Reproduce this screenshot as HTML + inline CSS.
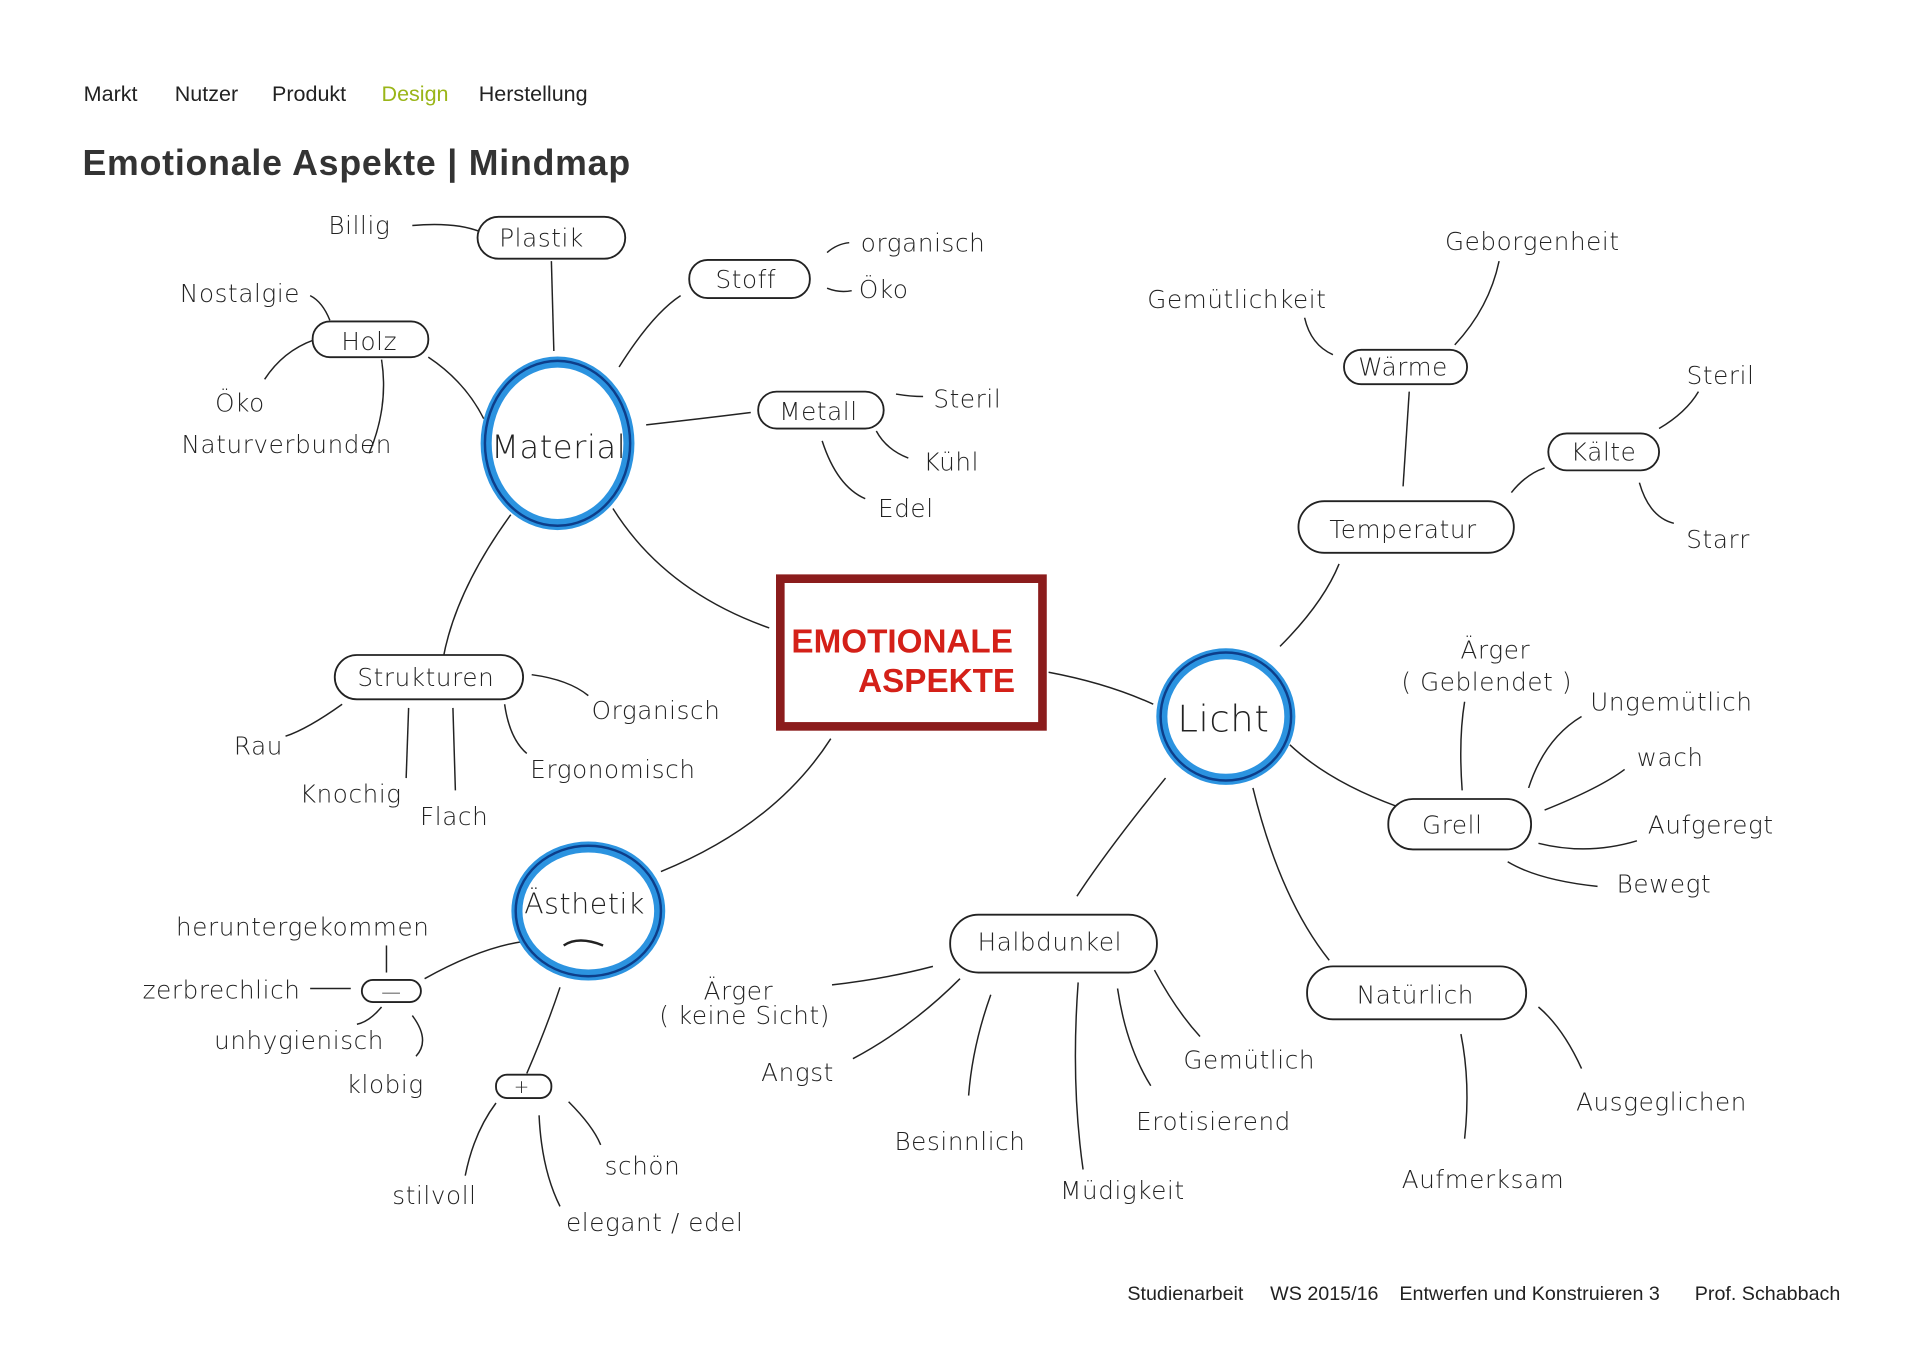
<!DOCTYPE html>
<html><head><meta charset="utf-8"><style>
html,body{margin:0;padding:0;background:#fff;width:1920px;height:1358px;overflow:hidden}
svg{display:block}
.h{font-family:"DejaVu Sans","Liberation Sans",sans-serif;font-weight:300;fill:#222;font-size:20px;letter-spacing:0.5px}
.n{font-family:"Liberation Sans",sans-serif;font-size:17.5px;fill:#222}
.l{fill:none;stroke:#222;stroke-width:1.2}
.o{fill:#fff;stroke:#222;stroke-width:1.5}
</style></head><body>
<svg width="1920" height="1358" viewBox="0 0 1560 1103" xmlns="http://www.w3.org/2000/svg">
<text class="n" x="68" y="82">Markt</text>
<text class="n" x="142" y="82">Nutzer</text>
<text class="n" x="221" y="82">Produkt</text>
<text class="n" x="310" y="82" style="fill:#9ab518">Design</text>
<text class="n" x="389" y="82">Herstellung</text>
<text x="67" y="142" style="font-family:'Liberation Sans',sans-serif;font-weight:bold;font-size:29px;fill:#333" textLength="445">Emotionale Aspekte | Mindmap</text>
<g class="n" style="font-size:16px">
<text x="916" y="1056">Studienarbeit</text>
<text x="1032" y="1056">WS 2015/16</text>
<text x="1137" y="1056">Entwerfen und Konstruieren 3</text>
<text x="1377" y="1056">Prof. Schabbach</text>
</g>

<!-- connectors -->
<path class="l" d="M335 183 Q370 180 390 188"/>
<path class="l" d="M448 212 L450 285"/>
<path class="l" d="M503 298 Q530 255 553 240"/>
<path class="l" d="M525 345 Q570 340 610 335"/>
<path class="l" d="M348 290 Q378 310 393 340"/>
<path class="l" d="M252 240 Q262 245 268 260"/>
<path class="l" d="M215 308 Q230 285 255 276"/>
<path class="l" d="M310 292 Q316 330 300 368"/>
<path class="l" d="M672 205 Q680 198 690 197"/><path class="l" d="M672 234 Q682 238 692 236"/>
<path class="l" d="M728 320 Q740 322 750 322"/>
<path class="l" d="M712 350 Q720 365 738 372"/>
<path class="l" d="M668 358 Q680 395 703 405"/>
<path class="l" d="M498 413 Q540 480 625 510"/>
<path class="l" d="M415 418 Q370 480 360 535"/>
<path class="l" d="M432 548 Q462 552 478 565"/>
<path class="l" d="M278 572 Q250 592 232 598"/>
<path class="l" d="M332 575 L330 632"/><path class="l" d="M368 575 L370 642"/>
<path class="l" d="M410 572 Q414 600 428 612"/>
<path class="l" d="M675 600 Q630 670 537 708"/>
<path class="l" d="M852 546 Q900 555 937 572"/>
<path class="l" d="M1040 525 Q1075 490 1088 458"/>
<path class="l" d="M1140 395 L1145 318"/>
<path class="l" d="M1083 288 Q1065 280 1060 258"/>
<path class="l" d="M1182 280 Q1210 250 1218 212"/>
<path class="l" d="M1228 400 Q1240 385 1255 380"/>
<path class="l" d="M1348 348 Q1370 335 1380 318"/>
<path class="l" d="M1332 392 Q1340 420 1360 425"/>
<path class="l" d="M1048 605 Q1080 635 1135 655"/>
<path class="l" d="M1188 642 Q1185 600 1190 570"/>
<path class="l" d="M1242 640 Q1255 600 1285 582"/>
<path class="l" d="M1255 658 Q1300 640 1320 625"/>
<path class="l" d="M1250 685 Q1290 695 1330 683"/>
<path class="l" d="M1225 700 Q1250 715 1298 720"/>
<path class="l" d="M947 632 Q900 690 875 728"/>
<path class="l" d="M1018 640 Q1040 730 1080 780"/>
<path class="l" d="M758 785 Q720 795 676 800"/>
<path class="l" d="M780 795 Q740 835 693 860"/>
<path class="l" d="M805 808 Q790 850 787 890"/>
<path class="l" d="M876 798 Q870 880 880 950"/>
<path class="l" d="M908 803 Q915 850 935 882"/>
<path class="l" d="M938 788 Q955 820 975 842"/>
<path class="l" d="M1187 840 Q1195 880 1190 925"/>
<path class="l" d="M1250 818 Q1270 835 1285 868"/>
<path class="l" d="M424 765 Q390 770 345 795"/>
<path class="l" d="M252 803 L285 803"/>
<path class="l" d="M314 768 L314 790"/>
<path class="l" d="M335 825 Q350 845 338 858"/>
<path class="l" d="M310 818 Q300 830 290 832"/>
<path class="l" d="M455 802 Q444 835 428 872"/>
<path class="l" d="M403 896 Q385 920 378 955"/>
<path class="l" d="M438 906 Q440 950 455 980"/>
<path class="l" d="M462 895 Q482 915 488 930"/>

<!-- circles -->
<ellipse cx="453" cy="360" rx="58" ry="66" fill="#fff" stroke="#2b93e0" stroke-width="9"/>
<ellipse cx="453" cy="360" rx="59" ry="67" fill="none" stroke="#0d3e8a" stroke-width="2"/>
<ellipse cx="996" cy="582" rx="52" ry="51" fill="#fff" stroke="#2b93e0" stroke-width="9"/>
<ellipse cx="996" cy="582" rx="53" ry="52" fill="none" stroke="#0d3e8a" stroke-width="2"/>
<ellipse cx="478" cy="740" rx="58" ry="52" fill="#fff" stroke="#2b93e0" stroke-width="9"/>
<ellipse cx="478" cy="740" rx="59" ry="53" fill="none" stroke="#0d3e8a" stroke-width="2"/>
<text class="h" x="454" y="372" text-anchor="middle" style="font-size:26px">Material</text>
<text class="h" x="994" y="594" text-anchor="middle" style="font-size:30px">Licht</text>
<text class="h" x="475" y="742" text-anchor="middle" style="font-size:23px">Ästhetik</text>
<path class="l" d="M458 768 Q470 760 490 768" style="stroke-width:2"/>

<!-- central box -->
<rect x="634" y="470" width="213" height="120" fill="#fff" stroke="#8b1c1c" stroke-width="7"/>
<text x="733" y="530" text-anchor="middle" style="font-family:'Liberation Sans',sans-serif;font-weight:bold;font-size:27px;fill:#d42018">EMOTIONALE</text>
<text x="761" y="562" text-anchor="middle" style="font-family:'Liberation Sans',sans-serif;font-weight:bold;font-size:27px;fill:#d42018">ASPEKTE</text>

<!-- ovals -->
<rect class="o" x="388" y="176" width="120" height="34" rx="17"/><text class="h" x="440" y="200" text-anchor="middle">Plastik</text>
<rect class="o" x="254" y="261" width="94" height="29" rx="14"/><text class="h" x="300" y="284" text-anchor="middle">Holz</text>
<rect class="o" x="560" y="211" width="98" height="31" rx="15"/><text class="h" x="606" y="234" text-anchor="middle">Stoff</text>
<rect class="o" x="616" y="318" width="102" height="30" rx="15"/><text class="h" x="665" y="341" text-anchor="middle">Metall</text>
<rect class="o" x="272" y="532" width="153" height="36" rx="18"/><text class="h" x="346" y="557" text-anchor="middle">Strukturen</text>
<rect class="o" x="1092" y="284" width="100" height="28" rx="14"/><text class="h" x="1140" y="305" text-anchor="middle">Wärme</text>
<rect class="o" x="1258" y="352" width="90" height="30" rx="15"/><text class="h" x="1303" y="374" text-anchor="middle">Kälte</text>
<rect class="o" x="1055" y="407" width="175" height="42" rx="21"/><text class="h" x="1140" y="437" text-anchor="middle">Temperatur</text>
<rect class="o" x="1128" y="649" width="116" height="41" rx="20"/><text class="h" x="1180" y="677" text-anchor="middle">Grell</text>
<rect class="o" x="772" y="743" width="168" height="47" rx="23"/><text class="h" x="853" y="772" text-anchor="middle">Halbdunkel</text>
<rect class="o" x="1062" y="785" width="178" height="43" rx="21"/><text class="h" x="1150" y="815" text-anchor="middle">Natürlich</text>
<rect class="o" x="294" y="796" width="48" height="18" rx="9"/><text class="h" x="318" y="811" text-anchor="middle" style="font-size:16px">—</text>
<rect class="o" x="403" y="873" width="45" height="19" rx="9"/><text class="h" x="424" y="888" text-anchor="middle" style="font-size:15px">+</text>

<!-- labels -->
<g class="h" text-anchor="middle">
<text x="292" y="190">Billig</text>
<text x="195" y="245">Nostalgie</text>
<text x="195" y="334">Öko</text>
<text x="233" y="368">Naturverbunden</text>
<text x="750" y="204">organisch</text>
<text x="718" y="242">Öko</text>
<text x="786" y="331">Steril</text>
<text x="773" y="382">Kühl</text>
<text x="736" y="420">Edel</text>
<text x="533" y="584">Organisch</text>
<text x="498" y="632">Ergonomisch</text>
<text x="210" y="613">Rau</text>
<text x="285" y="652">Knochig</text>
<text x="369" y="670">Flach</text>
<text x="246" y="760">heruntergekommen</text>
<text x="180" y="811">zerbrechlich</text>
<text x="243" y="852">unhygienisch</text>
<text x="313" y="888">klobig</text>
<text x="353" y="978">stilvoll</text>
<text x="522" y="954">schön</text>
<text x="532" y="1000">elegant / edel</text>
<text x="1005" y="250">Gemütlichkeit</text>
<text x="1245" y="203">Geborgenheit</text>
<text x="1398" y="312">Steril</text>
<text x="1396" y="445">Starr</text>
<text x="1215" y="535">Ärger</text>
<text x="1208" y="561">( Geblendet )</text>
<text x="1358" y="577">Ungemütlich</text>
<text x="1357" y="622">wach</text>
<text x="1390" y="677">Aufgeregt</text>
<text x="1352" y="725">Bewegt</text>
<text x="600" y="812">Ärger</text>
<text x="605" y="832">( keine Sicht)</text>
<text x="648" y="878">Angst</text>
<text x="780" y="934">Besinnlich</text>
<text x="912" y="974">Müdigkeit</text>
<text x="986" y="918">Erotisierend</text>
<text x="1015" y="868">Gemütlich</text>
<text x="1350" y="902">Ausgeglichen</text>
<text x="1205" y="965">Aufmerksam</text>
</g>
</svg>
</body></html>
